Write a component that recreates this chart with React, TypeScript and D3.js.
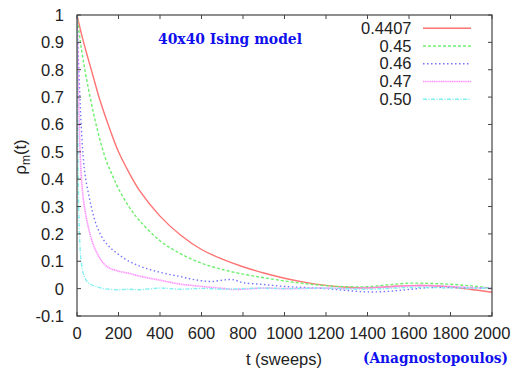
import React from "react";
import * as d3 from "d3";

const xTicks = [0, 200, 400, 600, 800, 1000, 1200, 1400, 1600, 1800, 2000];
const yTicks = [-0.1, 0, 0.1, 0.2, 0.3, 0.4, 0.5, 0.6, 0.7, 0.8, 0.9, 1];
const yTickLabels = ["-0.1", "0", "0.1", "0.2", "0.3", "0.4", "0.5", "0.6", "0.7", "0.8", "0.9", "1"];

const seriesNames = ["0.4407", "0.45", "0.46", "0.47", "0.50"];

const tRed = [0, 25, 50, 80, 110, 150, 200, 250, 300, 400, 500, 600, 700, 800, 900, 1000, 1100, 1200, 1300, 1400, 1500, 1600, 1700, 1800, 1900, 2000];
const vRed = [1, 0.92, 0.85, 0.77, 0.69, 0.6, 0.5, 0.425, 0.36, 0.265, 0.195, 0.143, 0.108, 0.08, 0.057, 0.038, 0.023, 0.012, 0.005, 0.003, 0.007, 0.011, 0.011, 0.006, -0.003, -0.013];

const tGreen = [0, 15, 30, 50, 80, 110, 140, 170, 200, 250, 300, 400, 500, 600, 700, 800, 900, 1000, 1100, 1200, 1300, 1400, 1500, 1600, 1700, 1800, 1900, 2000];
const vGreen = [1, 0.91, 0.835, 0.75, 0.64, 0.545, 0.47, 0.415, 0.365, 0.3, 0.25, 0.175, 0.127, 0.093, 0.07, 0.053, 0.04, 0.028, 0.018, 0.011, 0.007, 0.007, 0.014, 0.02, 0.019, 0.016, 0.01, 0.002];

const tBlue = [0, 5, 10, 15, 20, 30, 40, 60, 80, 100, 130, 160, 200, 250, 300, 350, 400, 450, 500, 550, 600, 650, 700, 750, 800, 900, 1000, 1100, 1200, 1300, 1400, 1500, 1600, 1700, 1800, 1900, 2000];
const vBlue = [1, 0.88, 0.78, 0.68, 0.6, 0.48, 0.41, 0.33, 0.265, 0.22, 0.176, 0.15, 0.125, 0.1, 0.083, 0.07, 0.06, 0.051, 0.044, 0.035, 0.029, 0.026, 0.031, 0.033, 0.022, 0.015, 0.008, 0.004, 0.0, -0.007, -0.012, -0.01, -0.003, 0.004, 0.004, 0.003, 0.002];

const tPink = [0, 5, 10, 15, 20, 30, 40, 50, 70, 90, 120, 150, 200, 250, 300, 350, 400, 450, 500, 550, 600, 700, 750, 800, 900, 1000, 1100, 1200, 1300, 1400, 1500, 1600, 1700, 1800, 1900, 2000];
const vPink = [1, 0.8, 0.62, 0.5, 0.42, 0.33, 0.28, 0.24, 0.18, 0.14, 0.1, 0.078, 0.064, 0.056, 0.046, 0.038, 0.031, 0.023, 0.016, 0.012, 0.008, 0.001, -0.003, -0.002, 0.002, 0.0, 0.001, 0.002, 0.0, 0.003, 0.006, 0.01, 0.011, 0.008, 0.004, 0.001];

const tCyan = [0, 2, 4, 6, 8, 10, 14, 20, 30, 45, 60, 90, 130, 200, 250, 300, 400, 500, 600, 700, 800, 900, 1000, 1200, 1400, 1600, 1800, 2000];
const vCyan = [1, 0.75, 0.55, 0.4, 0.3, 0.24, 0.16, 0.1, 0.056, 0.03, 0.018, 0.008, 0.0, -0.004, -0.002, -0.004, 0.002, -0.002, 0.001, -0.002, 0.0, 0.002, 0.0, 0.002, -0.002, 0.004, 0.003, 0.001];

const seriesT = [tRed, tGreen, tBlue, tPink, tCyan];
const seriesV = [vRed, vGreen, vBlue, vPink, vCyan];
const colors = ["#ff7373", "#6ef06e", "#7575ff", "#ff8cff", "#80f0f0"];
const dashes = ["", "3,2", "1.5,2.5", "1.2,0.6", "4,1.5,1,1.5"];
const widths = [1.4, 1.4, 1.4, 1.6, 1.4];

const L = 77, R = 492, T = 15, B = 316;

export default function App() {
  const x = d3.scaleLinear().domain([0, 2000]).range([L, R]);
  const y = d3.scaleLinear().domain([-0.1, 1]).range([B, T]);
  const line = d3
    .line<[number, number]>()
    .x((d) => x(d[0]))
    .y((d) => y(d[1]))
    .curve(d3.curveCatmullRom.alpha(0.5));
  const font = "'Liberation Sans', Arial, sans-serif";
  const axisColor = "#444";
  return (
    <svg width={516} height={370} style={{ position: "absolute", left: 0, top: 0, background: "#fff" }}>
      <defs>
        <clipPath id="plot">
          <rect x={L} y={T} width={R - L} height={B - T} />
        </clipPath>
      </defs>
      <g clipPath="url(#plot)">
        {seriesT.map((ts, i) => (
          <path
            key={i}
            d={line(ts.map((t, j) => [t, seriesV[i][j]] as [number, number])) || ""}
            fill="none"
            stroke={colors[i]}
            strokeWidth={widths[i]}
            strokeDasharray={dashes[i] || undefined}
          />
        ))}
      </g>
      <rect x={L} y={T} width={R - L} height={B - T} fill="none" stroke={axisColor} strokeWidth={1.2} />
      {xTicks.map((t) => (
        <g key={"xt" + t}>
          <line x1={x(t)} x2={x(t)} y1={B} y2={B - 4} stroke={axisColor} strokeWidth={1} />
          <line x1={x(t)} x2={x(t)} y1={T} y2={T + 4} stroke={axisColor} strokeWidth={1} />
          <text x={x(t)} y={339} textAnchor="middle" fontFamily={font} fontSize={16.5} fill="#222">
            {t}
          </text>
        </g>
      ))}
      {yTicks.map((v, i) => (
        <g key={"yt" + i}>
          <line x1={L} x2={L + 4} y1={y(v)} y2={y(v)} stroke={axisColor} strokeWidth={1} />
          <line x1={R} x2={R - 4} y1={y(v)} y2={y(v)} stroke={axisColor} strokeWidth={1} />
          <text x={64} y={y(v) + 6} textAnchor="end" fontFamily={font} fontSize={16.5} fill="#222">
            {yTickLabels[i]}
          </text>
        </g>
      ))}
      <text
        transform="translate(26,157) rotate(-90)"
        textAnchor="middle"
        fontFamily={font}
        fontSize={16.5}
        fill="#222"
      >
        ρ<tspan fontSize={12} dy={4}>m</tspan>
        <tspan dy={-4}>(t)</tspan>
      </text>
      <text x={284} y={365} textAnchor="middle" fontFamily={font} fontSize={16.5} fill="#222">
        t (sweeps)
      </text>
      <text
        x={158}
        y={43.5}
        fontFamily="'DejaVu Serif', 'Liberation Serif', serif"
        fontWeight="bold"
        fontSize={14}
        fill="#1010ee"
        textLength={144}
        lengthAdjust="spacingAndGlyphs"
      >
        40x40 Ising model
      </text>
      <text
        x={363}
        y={363}
        fontFamily="'DejaVu Serif', 'Liberation Serif', serif"
        fontWeight="bold"
        fontSize={14}
        fill="#1010ee"
        textLength={145}
        lengthAdjust="spacingAndGlyphs"
      >
        (Anagnostopoulos)
      </text>
      {seriesNames.map((n, i) => {
        const yy = 28.3 + i * 17.75;
        return (
          <g key={"lg" + i}>
            <text x={411.5} y={yy + 5.5} textAnchor="end" fontFamily={font} fontSize={16.5} fill="#222">
              {n}
            </text>
            <line
              x1={423}
              x2={471}
              y1={yy}
              y2={yy}
              stroke={colors[i]}
              strokeWidth={widths[i]}
              strokeDasharray={dashes[i] || undefined}
            />
          </g>
        );
      })}
    </svg>
  );
}
